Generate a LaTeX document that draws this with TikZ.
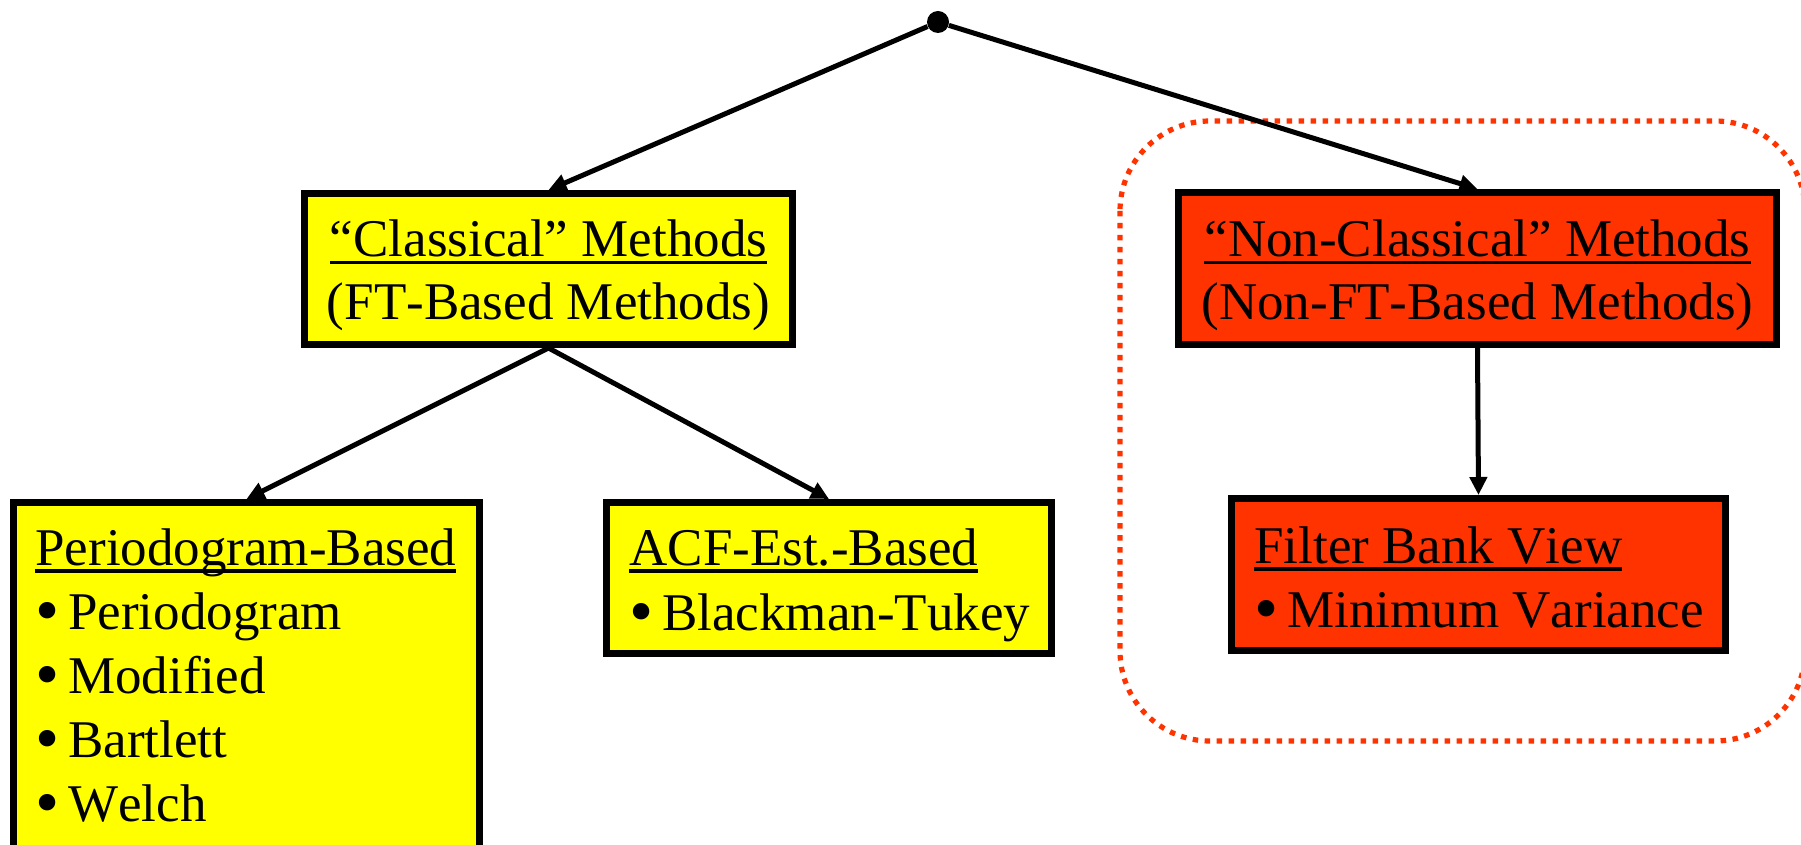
\documentclass[tikz,border=0pt]{standalone}
\usepackage{fontspec}
\usepackage{graphicx}
\setmainfont{Liberation Serif}[Kerning=Off]
\usetikzlibrary{arrows.meta}
\definecolor{boxyellow}{HTML}{FFFF00}
\definecolor{boxred}{HTML}{FF3300}
\newcommand\ulin[1]{\setbox0\hbox{#1}\rlap{\rule[-3.75pt]{\wd0}{1.6pt}}\box0}
\newcommand\bul{\makebox[0.62em][l]{\raisebox{-0.08em}{\scalebox{1.3}{•}}}}
\begin{document}
\begin{tikzpicture}[x=0.5pt,y=-0.5pt,
  box/.style={draw=black, line width=3.4pt, inner sep=0pt, rectangle},
  ybox/.style={box, fill=boxyellow},
  rbox/.style={box, fill=boxred},
  txt/.style={inner sep=0pt, font=\fontsize{26.5pt}{32pt}\selectfont},
  conn/.style={line width=2.5pt, -{Triangle[length=9pt,width=8.5pt]}},
  dotbox/.style={draw=boxred, line width=2.6pt, dash pattern=on 2.75pt off 3.25pt, rounded corners=45pt}]
\clip (0,0) rectangle (1801,845);
\draw[dotbox] (1120,121) rectangle (1805,741);

\node[circle, fill=black, inner sep=0pt, minimum size=11pt] (root) at (938,22) {};
\node[ybox, minimum width=244.1pt, minimum height=75.6pt] (cls) at (548.5,269) {};
\node[rbox, minimum width=299.1pt, minimum height=76.1pt] (ncls) at (1477.5,268.5) {};
\node[ybox, minimum width=233.1pt, minimum height=187.1pt] (per) at (246.5,689.5) {};
\node[ybox, minimum width=222.6pt, minimum height=75.6pt] (acf) at (829,578) {};
\node[rbox, minimum width=247.1pt, minimum height=76.1pt] (fb) at (1478.5,574.5) {};

\node[txt, anchor=base] (clsA) at (548.5,257) {\ulin{“Classical” Methods}};
\node[txt, anchor=base] (clsB) at (548.5,320) {(FT-Based Methods)};
\node[txt, anchor=base] (nclsA) at (1477.5,257) {\ulin{“Non-Classical” Methods}};
\node[txt, anchor=base] (nclsB) at (1477.5,320) {(Non-FT-Based Methods)};

\node[txt, anchor=base west] (perA) at (35,565) {\ulin{Periodogram-Based}};
\node[txt, anchor=base west] (perB) at (35,629) {\bul Periodogram};
\node[txt, anchor=base west] (perC) at (35,693) {\bul Modified};
\node[txt, anchor=base west] (perD) at (35,757) {\bul Bartlett};
\node[txt, anchor=base west] (perE) at (35,821) {\bul Welch};

\node[txt, anchor=base west] (acfA) at (629,565) {\ulin{ACF-Est.-Based}};
\node[txt, anchor=base west] (acfB) at (629,630) {\bul Blackman-Tukey};

\node[txt, anchor=base west] (fbA) at (1254,563) {\ulin{Filter Bank View}};
\node[txt, anchor=base west] (fbB) at (1254,627) {\bul Minimum Variance};

\draw[conn] (root) -- (cls.north);
\draw[conn] (root) -- (ncls.north);
\draw[conn] (cls.south) -- (per.north);
\draw[conn] (cls.south) -- (acf.north);
\draw[conn] (ncls.south) -- (fb.north);
\end{tikzpicture}
\end{document}
